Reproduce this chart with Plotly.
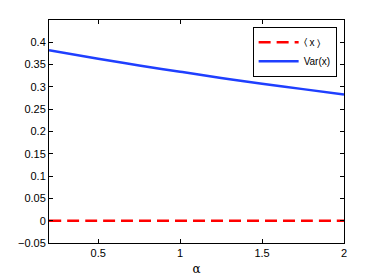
import plotly.graph_objects as go

alpha = [0.2, 0.5, 0.75, 1.0, 1.25, 1.5, 1.75, 2.0]
mean_x = [0, 0, 0, 0, 0, 0, 0, 0]
var_x = [0.382, 0.363, 0.348, 0.334, 0.320, 0.307, 0.295, 0.283]

fig = go.Figure()
fig.add_trace(go.Scatter(x=alpha, y=mean_x, mode="lines", name="\u2329 x \u232a",
                         line=dict(color="#ff0000", width=2.5, dash="12px,6px"), line_shape="spline"))
fig.add_trace(go.Scatter(x=alpha, y=var_x, mode="lines", name="Var(x)",
                         line=dict(color="#1f3fff", width=2.5), line_shape="spline"))

axis_common = dict(showgrid=False, zeroline=False, showline=True, linecolor="black", linewidth=1,
                   mirror="ticks", ticks="inside", ticklen=4, tickcolor="black", automargin=False,
                   tickfont=dict(family="Liberation Sans, Arial", size=11, color="black"))
fig.update_xaxes(range=[0.2, 2], tickvals=[0.5, 1, 1.5, 2], ticktext=["0.5", "1", "1.5", "2"],
                 title=dict(text="\u03b1", font=dict(family="DejaVu Serif", size=12, color="black"), standoff=8),
                 **axis_common)
fig.update_yaxes(range=[-0.05, 0.45],
                 tickvals=[-0.05, 0, 0.05, 0.1, 0.15, 0.2, 0.25, 0.3, 0.35, 0.4],
                 ticktext=["\u22120.05", "0", "0.05", "0.1", "0.15", "0.2", "0.25", "0.3", "0.35", "0.4"],
                 **axis_common)
fig.update_layout(width=379, height=276, margin=dict(l=49, r=35, t=20, b=33),
                  plot_bgcolor="white", paper_bgcolor="white",
                  legend=dict(x=0.975, y=0.97, xanchor="right", yanchor="top",
                              bordercolor="black", borderwidth=1, bgcolor="white",
                              font=dict(family="Liberation Sans, Arial", size=10, color="black"),
                              tracegroupgap=0, itemwidth=40))
fig.write_html("out.html", config={"displayModeBar": False},
               post_script="document.body.style.margin='0';document.body.style.overflow='hidden';")
